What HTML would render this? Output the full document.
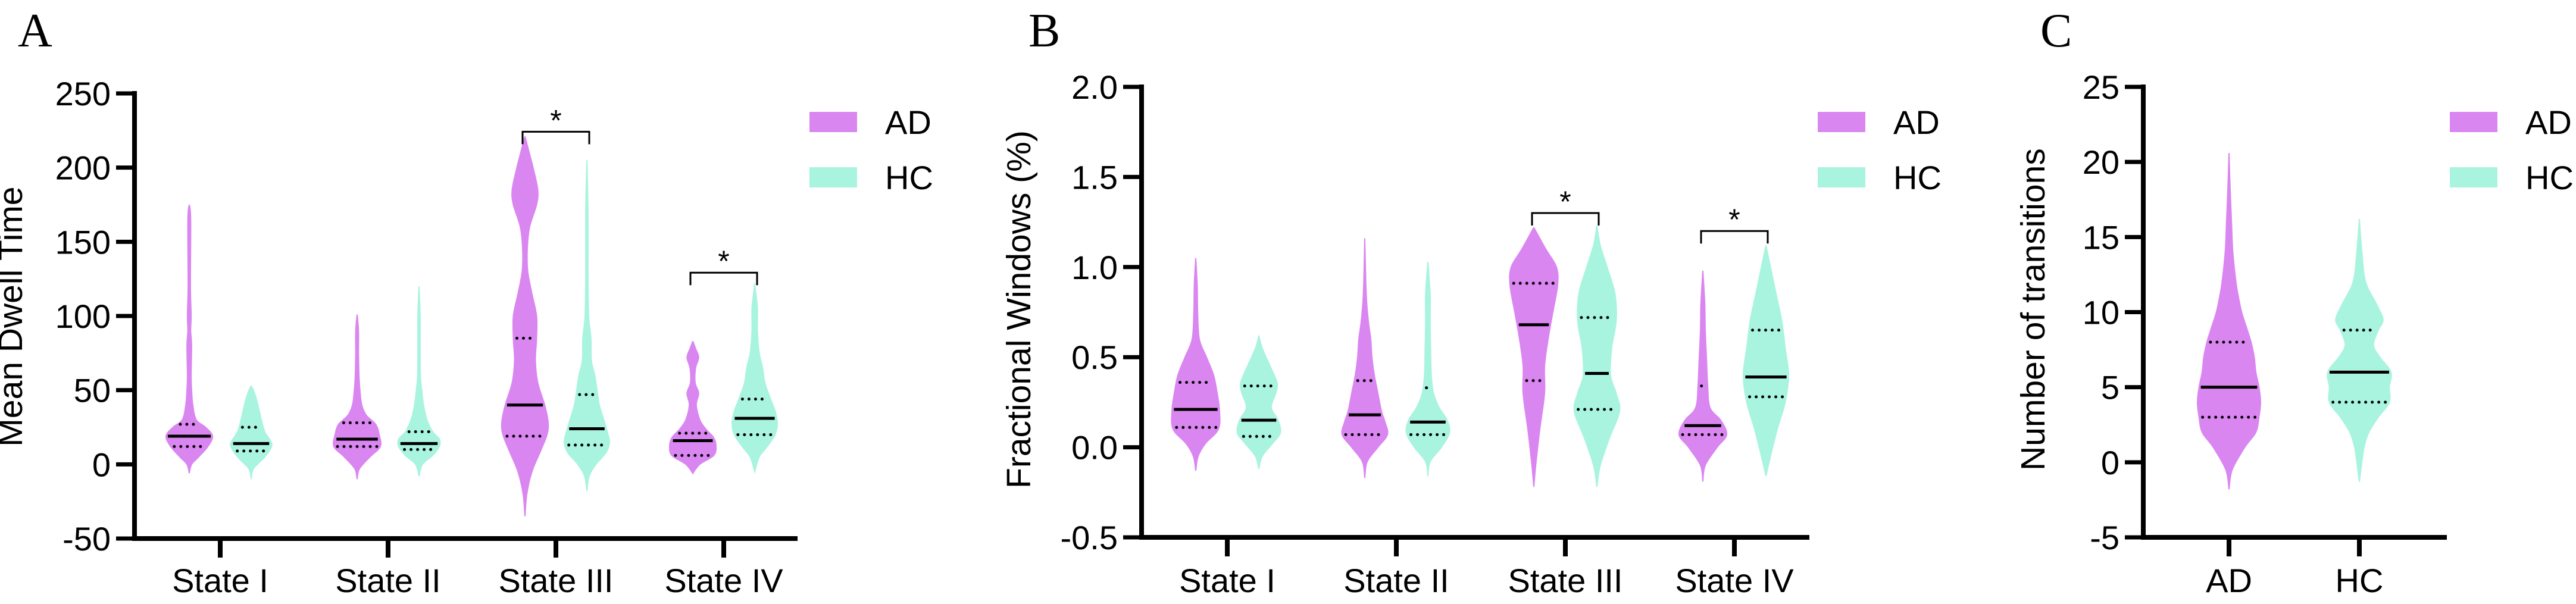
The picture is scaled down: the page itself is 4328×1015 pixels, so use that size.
<!DOCTYPE html>
<html><head><meta charset="utf-8">
<style>
html,body{margin:0;padding:0;background:#fff;}
svg{display:block;}
text{font-family:"Liberation Sans",Arial,sans-serif;fill:#000;}
</style></head>
<body>
<svg id="fig" width="4328" height="1015" viewBox="0 0 4328 1015" xmlns="http://www.w3.org/2000/svg">
<rect width="4328" height="1015" fill="#fff"/>
</svg>
<script>
// ---------- Panel A data: Mean Dwell Time ----------
const aCategories = ["State I","State II","State III","State IV"];
const aTicks = [-50,0,50,100,150,200,250];
const aADMedian = [19,17,40,16];
const aADQ1 = [12,12,19,6];
const aADQ3 = [27,28,85,21];
const aHCMedian = [14,14,24,31];
const aHCQ1 = [9,10,13,20];
const aHCQ3 = [25,22,47,44];
const aADDensity = [
 [[-6,0],[0,0.1],[5,0.4],[12,0.8],[19,1],[25,0.7],[30,0.3],[40,0.15],[50,0.1],[60,0.08],[80,0.1],[90,0.06],[100,0.08],[120,0.05],[165,0.06],[175,0]],
 [[-10,0],[-3,0.1],[5,0.55],[12,1],[20,0.95],[27,0.8],[33,0.4],[40,0.2],[50,0.12],[60,0.08],[75,0.06],[90,0.06],[101,0]],
 [[-35,0],[-20,0.08],[-5,0.3],[10,0.7],[20,0.95],[28,1],[40,0.85],[55,0.55],[70,0.45],[85,0.5],[100,0.5],[115,0.3],[130,0.12],[145,0.1],[160,0.2],[175,0.5],[185,0.55],[200,0.35],[212,0.15],[221,0]],
 [[-6,0],[0,0.3],[6,0.9],[12,1],[18,0.9],[24,0.55],[30,0.3],[40,0.15],[48,0.25],[55,0.1],[65,0.12],[72,0.25],[78,0.12],[83,0]]
];
const aHCDensity = [
 [[-10,0],[-3,0.1],[5,0.6],[12,0.9],[16,0.85],[22,0.6],[30,0.45],[40,0.3],[48,0.15],[53,0]],
 [[-8,0],[0,0.15],[6,0.6],[12,0.9],[17,0.9],[22,0.6],[30,0.35],[40,0.2],[50,0.12],[60,0.06],[80,0.05],[100,0.05],[120,0]],
 [[-18,0],[-8,0.1],[0,0.4],[8,0.85],[15,1],[22,0.9],[30,0.75],[40,0.55],[50,0.45],[60,0.35],[70,0.2],[85,0.18],[100,0.08],[130,0.05],[170,0.05],[205,0]],
 [[-5,0],[5,0.2],[12,0.55],[20,0.9],[28,1],[36,0.9],[44,0.7],[55,0.45],[65,0.35],[75,0.2],[90,0.12],[105,0.12],[115,0.05],[122,0]]
];
const aSig = [2,3];
const aSigLevel = [225,130];

// ---------- Panel B data: Fractional Windows ----------
const bCategories = ["State I","State II","State III","State IV"];
const bTicks = [-0.5,0.0,0.5,1.0,1.5,2.0];
const bADMedian = [0.21,0.18,0.68,0.12];
const bADQ1 = [0.11,0.07,0.37,0.07];
const bADQ3 = [0.36,0.37,0.91,0.34];
const bHCMedian = [0.15,0.14,0.41,0.39];
const bHCQ1 = [0.06,0.07,0.21,0.28];
const bHCQ3 = [0.34,0.33,0.72,0.65];
const bADDensity = [
 [[-0.13,0],[-0.05,0.1],[0.02,0.4],[0.1,0.95],[0.2,1],[0.3,0.9],[0.4,0.75],[0.5,0.45],[0.6,0.15],[0.75,0.08],[0.9,0.06],[1.05,0]],
 [[-0.17,0],[-0.08,0.1],[0,0.55],[0.07,0.95],[0.14,0.85],[0.2,0.7],[0.3,0.55],[0.4,0.4],[0.5,0.3],[0.6,0.25],[0.7,0.15],[0.85,0.06],[1.16,0]],
 [[-0.22,0],[-0.1,0.08],[0.1,0.25],[0.3,0.45],[0.45,0.45],[0.6,0.6],[0.75,0.8],[0.9,1],[1.0,0.95],[1.1,0.5],[1.22,0]],
 [[-0.19,0],[-0.1,0.1],[0,0.6],[0.07,1],[0.15,0.75],[0.22,0.3],[0.35,0.2],[0.5,0.15],[0.65,0.1],[0.8,0.08],[0.98,0]]
];
const bHCDensity = [
 [[-0.12,0],[-0.05,0.15],[0.02,0.6],[0.08,0.95],[0.15,0.85],[0.22,0.55],[0.3,0.75],[0.36,0.8],[0.45,0.5],[0.55,0.15],[0.62,0]],
 [[-0.16,0],[-0.08,0.1],[0,0.6],[0.08,0.95],[0.15,0.85],[0.22,0.5],[0.3,0.25],[0.4,0.15],[0.55,0.12],[0.7,0.1],[0.85,0.1],[1.03,0]],
 [[-0.22,0],[-0.1,0.15],[0.05,0.55],[0.2,1],[0.3,0.85],[0.4,0.6],[0.55,0.65],[0.7,0.85],[0.85,0.8],[1.0,0.45],[1.12,0.15],[1.23,0]],
 [[-0.16,0],[-0.05,0.2],[0.1,0.5],[0.25,0.85],[0.4,1],[0.55,0.85],[0.7,0.7],[0.85,0.45],[1.0,0.2],[1.12,0]]
];
const bSig = [2,3];
const bSigLevel = [1.3,1.2];

// ---------- Panel C data: Number of transitions ----------
const cCategories = ["AD","HC"];
const cTicks = [-5,0,5,10,15,20,25];
const cMedian = [5,6];
const cQ1 = [3,4];
const cQ3 = [8,8.8];
const cDensity = [
 [[-1.8,0],[-0.5,0.1],[1,0.5],[2,0.85],[3,0.95],[4,1],[5,0.95],[6,0.85],[7,0.8],[8,0.7],[9,0.55],[10,0.4],[11,0.3],[12,0.22],[14,0.12],[16,0.08],[18,0.04],[20.6,0]],
 [[-1.3,0],[0,0.08],[1,0.15],[2,0.3],[3,0.6],[4,0.95],[5,0.95],[6,1],[7,0.65],[7.8,0.45],[8.8,0.6],[9.5,0.75],[10.5,0.55],[12,0.2],[14,0.08],[16.2,0]]
];

const AD_COLOR = "#da86f1", HC_COLOR = "#a9f4df";
const NS = "http://www.w3.org/2000/svg";
const svg = document.getElementById("fig");
function mk(tag, attrs, parent){
  const e = document.createElementNS(NS, tag);
  for (const k in attrs) e.setAttribute(k, attrs[k]);
  (parent||svg).appendChild(e);
  return e;
}
function scaleLin(d0,d1,r0,r1){ return v => r0 + (v-d0)/(d1-d0)*(r1-r0); }
function widthAt(dens, v){
  for (let i=0;i<dens.length-1;i++){
    const a=dens[i], b=dens[i+1];
    if (v>=a[0] && v<=b[0]) return a[1]+(b[1]-a[1])*(v-a[0])/(b[0]-a[0]);
  }
  return 0;
}
function smoothPath(pts){
  let d = "M"+pts[0][0]+","+pts[0][1];
  for (let i=0;i<pts.length-1;i++){
    const p0=pts[Math.max(0,i-1)], p1=pts[i], p2=pts[i+1], p3=pts[Math.min(pts.length-1,i+2)];
    const c1=[p1[0]+(p2[0]-p0[0])/6, p1[1]+(p2[1]-p0[1])/6];
    const c2=[p2[0]-(p3[0]-p1[0])/6, p2[1]-(p3[1]-p1[1])/6];
    d += " C"+c1[0].toFixed(1)+","+c1[1].toFixed(1)+" "+c2[0].toFixed(1)+","+c2[1].toFixed(1)+" "+p2[0].toFixed(1)+","+p2[1].toFixed(1);
  }
  return d;
}
function violin(g, cx, y, dens, maxHW, color, med, q1, q3, name){
  const right = dens.map(p=>[cx+p[1]*maxHW, y(p[0])]);
  const left = dens.slice().reverse().map(p=>[cx-p[1]*maxHW, y(p[0])]);
  const p = mk("path",{d: smoothPath(right)+" L"+smoothPath(left).slice(1)+" Z", fill: color, stroke: color, "stroke-width": 2}, g);
  
  
  const wm = widthAt(dens, med)*maxHW;
  const ml = mk("line",{x1:cx-wm+3,x2:cx+wm-3,y1:y(med),y2:y(med),stroke:"#000","stroke-width":5}, g);
  
  
  [q1,q3].forEach((q,i)=>{
    const w = widthAt(dens,q)*maxHW;
    const l = mk("line",{x1:cx-w+6,x2:cx+w-4,y1:y(q),y2:y(q),stroke:"#000","stroke-width":5,"stroke-dasharray":"0 11","stroke-linecap":"round"}, g);
    
    
  });
}
function axes(g, cfg, y){
  const ax = mk("path",{d:"M"+cfg.axX+","+(y(cfg.ticks[cfg.ticks.length-1])-4)+" L"+cfg.axX+","+cfg.axY+" L"+cfg.axEnd+","+cfg.axY, fill:"none", stroke:"#000","stroke-width":8}, g);
  
  
  cfg.ticks.forEach(t=>{
    const ty=y(t);
    const tl = mk("line",{x1:cfg.axX-31,x2:cfg.axX,y1:ty,y2:ty,stroke:"#000","stroke-width":7}, g);
    
    
    const tx = mk("text",{x:cfg.axX-40,y:ty+20,"font-size":56,"text-anchor":"end"}, g);
    tx.textContent = cfg.fmt(t);
    
    
  });
  const yt = mk("text",{x:0,y:0,"font-size":57,"text-anchor":"middle",transform:"translate("+cfg.titleX+","+cfg.titleY+") rotate(-90)"}, g);
  yt.textContent = cfg.title;
  
  
  const pl = mk("text",{x:cfg.labelX,y:78,"font-size":80,style:"font-family:'Liberation Serif',serif"}, g);
  pl.textContent = cfg.label;
  
  
}
function xcat(g, cfg, cats){
  cats.forEach((c,i)=>{
    const x = cfg.x0 + i*cfg.dx;
    const tl = mk("line",{x1:x,x2:x,y1:cfg.axY,y2:cfg.axY+32,stroke:"#000","stroke-width":8}, g);
    
    
    const t = mk("text",{x:x,y:995,"font-size":56,"text-anchor":"middle"}, g);
    t.textContent = c;
    
    
  });
}
function legend(g, x){
  [["AD",AD_COLOR,188],["HC",HC_COLOR,281]].forEach(([lab,col,yy])=>{
    const r = mk("rect",{x:x,y:yy,width:80,height:34,fill:col}, g);
    
    
    const t = mk("text",{x:x+127,y:yy+37,"font-size":56}, g);
    t.textContent = lab;
    
    
  });
}
function sig(g, x1, x2, yb){
  const p = mk("path",{d:"M"+x1+","+(yb+21)+" V"+yb+" H"+x2+" V"+(yb+21),fill:"none",stroke:"#000","stroke-width":3}, g);
  
  
  const t = mk("text",{x:(x1+x2)/2,y:yb-2,"font-size":50,"text-anchor":"middle"}, g);
  t.textContent = "*";
  
  
}

// Panel A
(function(){
  const g = mk("g",{});
  
  
  const cfg = {axX:226, axY:905, axEnd:1340, ticks:aTicks, fmt:t=>String(t), title:"Mean Dwell Time", titleX:37, titleY:532, label:"A", labelX:30, x0:370, dx:282};
  const y = scaleLin(-50,250,905,157);
  aCategories.forEach((c,i)=>{
    const cx = cfg.x0+i*cfg.dx;
    violin(g, cx-52, y, aADDensity[i], 39, AD_COLOR, aADMedian[i], aADQ1[i], aADQ3[i], 'ad-state-'+(i+1));
    violin(g, cx+52, y, aHCDensity[i], 38, HC_COLOR, aHCMedian[i], aHCQ1[i], aHCQ3[i], 'hc-state-'+(i+1));
  });
  axes(g, cfg, y); xcat(g, cfg, aCategories); legend(g, 1360);
  aSig.forEach((s,k)=>{ const cx=cfg.x0+s*cfg.dx; sig(g, cx-56, cx+56, y(aSigLevel[k])+2); });
})();

// Panel B
(function(){
  const g = mk("g",{});
  
  
  const cfg = {axX:1918, axY:903, axEnd:3040, ticks:bTicks, fmt:t=>t.toFixed(1), title:"Fractional Windows (%)", titleX:1731, titleY:520, label:"B", labelX:1728, x0:2062, dx:284};
  const y = scaleLin(-0.5,2.0,903,146);
  bCategories.forEach((c,i)=>{
    const cx = cfg.x0+i*cfg.dx;
    violin(g, cx-53, y, bADDensity[i], 40, AD_COLOR, bADMedian[i], bADQ1[i], bADQ3[i], 'ad-state-'+(i+1));
    violin(g, cx+53, y, bHCDensity[i], 38, HC_COLOR, bHCMedian[i], bHCQ1[i], bHCQ3[i], 'hc-state-'+(i+1));
  });
  axes(g, cfg, y); xcat(g, cfg, bCategories); legend(g, 3054);
  bSig.forEach((s,k)=>{ const cx=cfg.x0+s*cfg.dx; sig(g, cx-56, cx+56, y(bSigLevel[k])); });
})();

// Panel C
(function(){
  const g = mk("g",{});
  
  
  const cfg = {axX:3601, axY:903, axEnd:4111, ticks:cTicks, fmt:t=>String(t), title:"Number of transitions", titleX:3435, titleY:520, label:"C", labelX:3428, x0:3745, dx:219};
  const y = scaleLin(-5,25,903,146);
  const cols=[AD_COLOR,HC_COLOR];
  cCategories.forEach((c,i)=>{
    const cx = cfg.x0+i*cfg.dx;
    violin(g, cx, y, cDensity[i], 53, cols[i], cMedian[i], cQ1[i], cQ3[i], c.toLowerCase());
  });
  axes(g, cfg, y); xcat(g, cfg, cCategories); legend(g, 4116);
})();
</script>
</body></html>
